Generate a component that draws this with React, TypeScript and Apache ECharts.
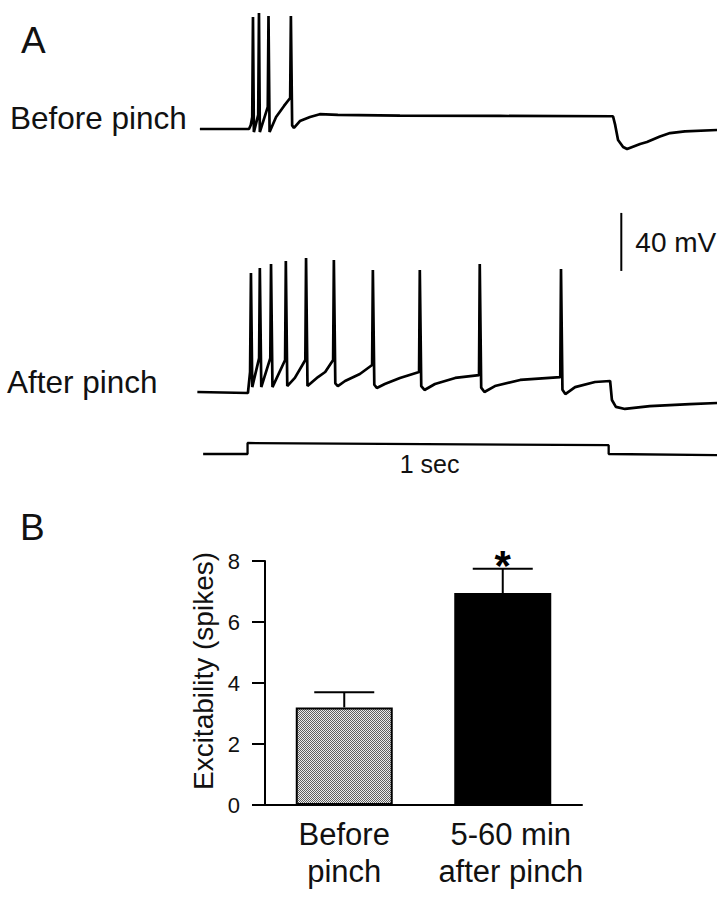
import React, { useEffect, useRef } from "react";
import * as echarts from "echarts";

const FONT = "'Liberation Sans', Arial, Helvetica, sans-serif";
const INK = "#111";

// Panel A: membrane potential traces, [time (ms from current onset), mV]
const beforePinchTrace: number[][] = [
  [-132, -60], [4, -60], [9, -57.2], [13, -51.7], [15, 17.2], [17.5, -62.1],
  [29.5, -50.3], [31.6, 20], [34, -62.1], [56, -44.8], [58, 17.9], [61, -62.1],
  [79, -51.7], [101, -44.1], [118, -38.6], [120, 17.9], [123.5, -57.5], [128.5, -59.3],
  [145, -54.5], [173, -51.7], [200, -49.8], [250, -50.3], [422, -50.8],
  [699, -51.0], [1012, -51.2], [1018, -57.2], [1026, -67.6], [1040, -72.4],
  [1051, -73.8], [1087, -70.3], [1106, -69], [1142, -65.2], [1170, -62.8],
  [1211, -61.6], [1300, -60.7],
];

const afterPinchTrace: number[][] = [
  [-139, -60], [1, -60.7], [7, -46.2], [9.4, 22.1], [13, -56.6],
  [32, -36.6], [34, 25.5], [38, -56.6], [63, -36.6], [65, 28.3], [69, -56.6],
  [104, -37.9], [106, 30.3], [110, -55.9], [131, -50.3], [160, -37.9],
  [162, 32.4], [166, -55.9], [195, -49.7], [215, -46.2], [237, -37.9],
  [239, 31], [243, -54], [250, -55.9], [270, -52.4], [311, -47.6], [345, -41.4],
  [347, 24.1], [351, -55], [358, -57.2], [380, -54.5], [422, -50.3], [475, -46.2],
  [477, 24.1], [481, -56], [490, -58.6], [519, -54.5], [575, -50.3], [641, -48.3],
  [643, 28.3], [647, -57], [656, -60], [685, -55.9], [755, -51.7], [866, -49.7],
  [868, 24.8], [872, -58.5], [880, -61.4], [907, -56.6], [962, -53.1], [1004, -52.4],
  [1009, -65.5], [1020, -70.3], [1045, -71.7], [1114, -69.7], [1225, -68.3],
  [1300, -67.6],
];

// Injected current step (nA)
const currentStep: number[][] = [
  [-123, 0], [0, 0], [0, 0.5], [1000, 0.4], [1000, 0], [1300, -0.05],
];

// Scale bar: [time, base mV, length mV]
const scaleBar: number[][] = [[1035, 23.5, 40]];

// Panel B: excitability
const categories = ["Before\npinch", "5-60 min\nafter pinch"];
const means = [3.2, 6.95];
const sems = [0.5, 0.8];
const significant = [false, true];
const yTicks = [0, 2, 4, 6, 8];

export default function App() {
  const ref = useRef<HTMLDivElement>(null);

  useEffect(() => {
    document.body.style.margin = "0";
    const chart = echarts.init(ref.current!, null, { renderer: "svg" });

    const cv = document.createElement("canvas");
    cv.width = 2;
    cv.height = 2;
    const ctx = cv.getContext("2d")!;
    ctx.fillStyle = "#ececec";
    ctx.fillRect(0, 0, 2, 2);
    ctx.fillStyle = "#5e5e5e";
    ctx.fillRect(0, 0, 1, 1);
    ctx.fillRect(1, 1, 1, 1);
    const stipple: any = { image: cv, repeat: "repeat", imageWidth: 2, imageHeight: 2 };

    const traceX = (gi: number) => ({
      type: "value", gridIndex: gi, min: -140, max: 1300, show: false,
    });

    const option: any = {
      animation: false,
      backgroundColor: "#fff",
      textStyle: { fontFamily: FONT },
      grid: [
        { left: 197, top: 5.75, width: 520, height: 166.75 },
        { left: 197, top: 247, width: 520, height: 188.5 },
        { left: 197, top: 432, width: 520, height: 33 },
        { left: 265, top: 561, width: 317, height: 244 },
      ],
      xAxis: [
        traceX(0),
        traceX(1),
        traceX(2),
        {
          type: "category",
          gridIndex: 3,
          data: categories.map((c, i) =>
            i === 1 ? { value: c, textStyle: { padding: [0, 0, 0, 16] } } : c
          ),
          axisTick: { show: false },
          axisLine: { lineStyle: { color: "#000", width: 2 } },
          axisLabel: {
            interval: 0, color: INK, fontFamily: FONT, fontSize: 31, lineHeight: 37, margin: 11,
          },
        },
      ],
      yAxis: [
        { type: "value", gridIndex: 0, min: -90, max: 25, show: false },
        { type: "value", gridIndex: 1, min: -90, max: 40, show: false },
        { type: "value", gridIndex: 2, min: -0.5, max: 1, show: false },
        {
          type: "value",
          gridIndex: 3,
          min: yTicks[0],
          max: yTicks[yTicks.length - 1],
          interval: 2,
          splitLine: { show: false },
          axisLine: { show: true, lineStyle: { color: "#000", width: 2 } },
          axisTick: { show: true, length: 13, lineStyle: { color: "#000", width: 2 } },
          axisLabel: { color: INK, fontFamily: FONT, fontSize: 22, margin: 25 },
          name: "Excitability (spikes)",
          nameLocation: "middle",
          nameRotate: 90,
          nameGap: 48,
          nameTextStyle: {
            color: INK, fontFamily: FONT, fontSize: 28, padding: [0, 0, 0, 24],
          },
        },
      ],
      series: [
        {
          type: "line", xAxisIndex: 0, yAxisIndex: 0, data: beforePinchTrace,
          showSymbol: false, silent: true, lineStyle: { color: "#000", width: 2.7 },
        },
        {
          type: "line", xAxisIndex: 1, yAxisIndex: 1, data: afterPinchTrace,
          showSymbol: false, silent: true, lineStyle: { color: "#000", width: 2.7 },
        },
        {
          type: "line", xAxisIndex: 2, yAxisIndex: 2, data: currentStep,
          showSymbol: false, silent: true, lineStyle: { color: "#000", width: 2.3 },
        },
        {
          type: "custom", xAxisIndex: 1, yAxisIndex: 1, data: scaleBar, clip: false, silent: true,
          renderItem: (params: any, api: any) => {
            const t = api.value(0);
            const v = api.value(1);
            const len = api.value(2);
            const p0 = api.coord([t, v]);
            const p1 = api.coord([t, v + len]);
            return {
              type: "group",
              children: [
                {
                  type: "line",
                  shape: { x1: p0[0], y1: p0[1], x2: p1[0], y2: p1[1] },
                  style: { stroke: "#000", lineWidth: 2 },
                },
                {
                  type: "text",
                  x: p0[0] + 14,
                  y: (p0[1] + p1[1]) / 2 + 1,
                  style: {
                    text: `${len} mV`, fill: INK, font: `28px ${FONT}`,
                    textAlign: "left", textVerticalAlign: "middle",
                  },
                },
              ],
            };
          },
        },
        {
          type: "bar", xAxisIndex: 3, yAxisIndex: 3, barWidth: 97, silent: true,
          data: means.map((m, i) => ({
            value: m,
            itemStyle: {
              color: i === 0 ? stipple : "#000",
              borderColor: "#000",
              borderWidth: 2,
            },
          })),
        },
        {
          type: "custom", xAxisIndex: 3, yAxisIndex: 3, clip: false, silent: true, z: 5,
          data: means.map((m, i) => [i, m, sems[i], significant[i] ? 1 : 0]),
          renderItem: (params: any, api: any) => {
            const i = api.value(0);
            const m = api.value(1);
            const e = api.value(2);
            const sig = api.value(3);
            const p0 = api.coord([i, m]);
            const p1 = api.coord([i, m + e]);
            const children: any[] = [
              {
                type: "line",
                shape: { x1: p0[0], y1: p0[1], x2: p1[0], y2: p1[1] },
                style: { stroke: "#000", lineWidth: 2 },
              },
              {
                type: "line",
                shape: { x1: p1[0] - 30, y1: p1[1], x2: p1[0] + 30, y2: p1[1] },
                style: { stroke: "#000", lineWidth: 2 },
              },
            ];
            if (sig) {
              children.push({
                type: "text",
                x: p1[0],
                y: p1[1] - 3,
                style: {
                  text: "*", fill: "#000", font: `bold 42px ${FONT}`,
                  textAlign: "center", textVerticalAlign: "middle",
                },
              });
            }
            return { type: "group", children };
          },
        },
      ],
      graphic: [
        {
          type: "text", left: 21, top: 22,
          style: { text: "A", fill: INK, font: `37px ${FONT}` },
        },
        {
          type: "text", left: 20, top: 509,
          style: { text: "B", fill: INK, font: `37px ${FONT}` },
        },
        {
          type: "text", x: 10, y: 118,
          style: { text: "Before pinch", fill: INK, font: `31.5px ${FONT}`, textVerticalAlign: "middle" },
        },
        {
          type: "text", x: 7, y: 382,
          style: { text: "After pinch", fill: INK, font: `31.5px ${FONT}`, textVerticalAlign: "middle" },
        },
        {
          type: "text", x: 429.5, y: 464.3,
          style: {
            text: "1 sec", fill: INK, font: `25px ${FONT}`,
            textAlign: "center", textVerticalAlign: "middle",
          },
        },
      ],
    };

    chart.setOption(option);
    return () => chart.dispose();
  }, []);

  return (
    <div
      ref={ref}
      style={{ position: "absolute", left: 0, top: 0, width: 727, height: 900 }}
    />
  );
}
